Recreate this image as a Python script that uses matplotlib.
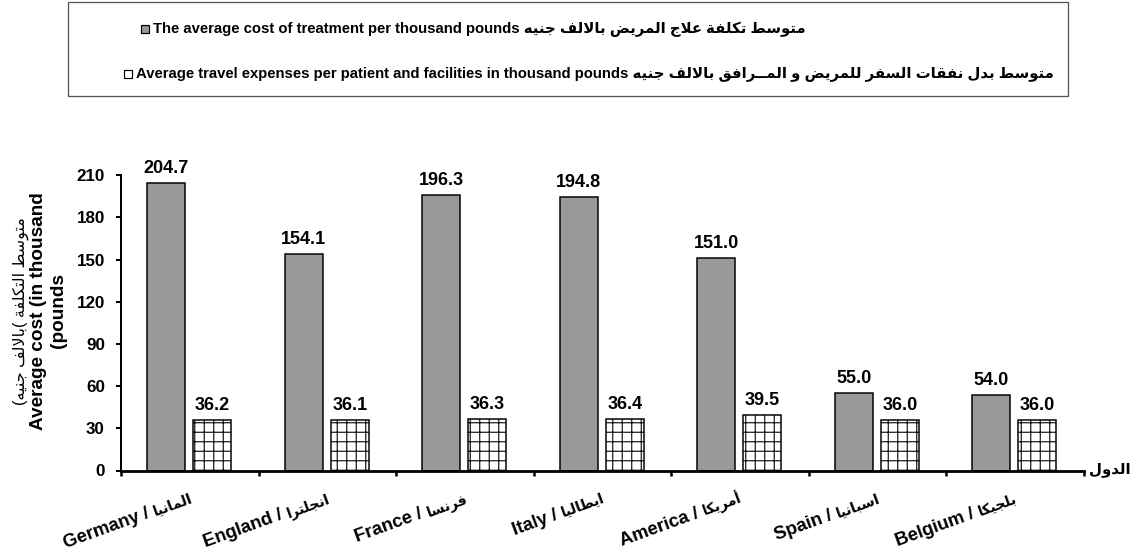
import matplotlib
matplotlib.use('Agg')
import matplotlib.pyplot as plt
from matplotlib.patches import Rectangle
import numpy as np

# ---------------- data ----------------
countries_en = ['Germany', 'England', 'France', 'Italy', 'America', 'Spain', 'Belgium']
countries_ar = ['المانيا', 'انجلترا', 'فرنسا', 'ايطاليا', 'أمريكا', 'اسبانيا', 'بلجيكا']
treatment_cost = [204.7, 154.1, 196.3, 194.8, 151.0, 55.0, 54.0]
travel_cost = [36.2, 36.1, 36.3, 36.4, 39.5, 36.0, 36.0]
y_ticks = [0, 30, 60, 90, 120, 150, 180, 210]
legend_en = ['The average cost of treatment per thousand pounds',
             'Average travel expenses per patient and facilities in thousand pounds']
legend_ar = ['متوسط تكلفة علاج المريض بالالف جنيه',
             'متوسط بدل نفقات السفر للمريض و المــرافق بالالف جنيه']
legend_colors = ['#999999', 'white']
xaxis_ar = 'الدول'
ylabel_en = ['Average cost (in thousand', '(pounds']

# ------------- simple Arabic shaping (presentation forms) -------------
FORMS = {
    'ا': ('\uFE8D', '\uFE8E'), 'أ': ('\uFE83', '\uFE84'),
    'ب': ('\uFE8F', '\uFE90', '\uFE91', '\uFE92'),
    'ت': ('\uFE95', '\uFE96', '\uFE97', '\uFE98'),
    'ة': ('\uFE93', '\uFE94'),
    'ج': ('\uFE9D', '\uFE9E', '\uFE9F', '\uFEA0'),
    'د': ('\uFEA9', '\uFEAA'), 'ر': ('\uFEAD', '\uFEAE'),
    'س': ('\uFEB1', '\uFEB2', '\uFEB3', '\uFEB4'),
    'ض': ('\uFEBD', '\uFEBE', '\uFEBF', '\uFEC0'),
    'ط': ('\uFEC1', '\uFEC2', '\uFEC3', '\uFEC4'),
    'ع': ('\uFEC9', '\uFECA', '\uFECB', '\uFECC'),
    'ف': ('\uFED1', '\uFED2', '\uFED3', '\uFED4'),
    'ق': ('\uFED5', '\uFED6', '\uFED7', '\uFED8'),
    'ك': ('\uFED9', '\uFEDA', '\uFEDB', '\uFEDC'),
    'ل': ('\uFEDD', '\uFEDE', '\uFEDF', '\uFEE0'),
    'م': ('\uFEE1', '\uFEE2', '\uFEE3', '\uFEE4'),
    'ن': ('\uFEE5', '\uFEE6', '\uFEE7', '\uFEE8'),
    'ه': ('\uFEE9', '\uFEEA', '\uFEEB', '\uFEEC'),
    'و': ('\uFEED', '\uFEEE'),
    'ي': ('\uFEF1', '\uFEF2', '\uFEF3', '\uFEF4'),
    'LA': ('\uFEFB', '\uFEFC'), 'LAH': ('\uFEF7', '\uFEF8'),
}


def ar(text):
    toks = []
    i = 0
    while i < len(text):
        c = text[i]
        if c == 'ل' and i + 1 < len(text) and text[i + 1] in 'اأ':
            toks.append('LA' if text[i + 1] == 'ا' else 'LAH')
            i += 2
            continue
        toks.append(c)
        i += 1

    def jt(t):
        if t == '\u0640':
            return 'C'
        if t in FORMS:
            return 'R' if len(FORMS[t]) == 2 else 'D'
        return 'U'

    out = []
    for k, t in enumerate(toks):
        typ = jt(t)
        if typ in ('U', 'C'):
            out.append(t)
            continue
        prev = toks[k - 1] if k > 0 else None
        nxt = toks[k + 1] if k + 1 < len(toks) else None
        jp = prev is not None and jt(prev) in ('D', 'C')
        jn = typ == 'D' and nxt is not None and jt(nxt) in ('D', 'R', 'C')
        f = FORMS[t]
        if typ == 'R':
            out.append(f[1] if jp else f[0])
        else:
            out.append(f[3] if (jp and jn) else f[1] if jp else f[2] if jn else f[0])
    return ''.join(reversed(out))


# ---------------- figure ----------------
DPI = 114
W, H = 1131, 553


def pt(px):
    return px * 72.0 / DPI


FAM = ['Liberation Sans', 'DejaVu Sans']
plt.rcParams['font.family'] = FAM
plt.rcParams['font.weight'] = 'bold'
plt.rcParams['hatch.linewidth'] = pt(1.1)

fig = plt.figure(figsize=(W / DPI, H / DPI), dpi=DPI)
fig.patch.set_facecolor('white')
renderer = fig.canvas.get_renderer()


def text_width(s, size, weight='bold', family=None):
    t = fig.text(0, 0, s, fontsize=size, fontweight=weight,
                 family=family if family else FAM)
    w = t.get_window_extent(renderer).width
    t.remove()
    return w


x0, x1 = 121, 1083.5
y0, y1 = 470.5, 175.3
ax = fig.add_axes([x0 / W, 1 - y0 / H, (x1 - x0) / W, (y0 - y1) / H])

x = np.arange(len(countries_en))
bw = 0.276
b1 = ax.bar(x - 0.17, treatment_cost, width=bw, color=legend_colors[0],
            edgecolor='black', linewidth=pt(1.5), zorder=2)
b2 = ax.bar(x + 0.165, travel_cost, width=bw, color=legend_colors[1],
            edgecolor='black', hatch='++', linewidth=pt(1.5), zorder=2)

for bars, vals in ((b1, treatment_cost), (b2, travel_cost)):
    for r, v in zip(bars, vals):
        ax.annotate(f'{v:.1f}', (r.get_x() + r.get_width() / 2, v),
                    xytext=(0, pt(10)), textcoords='offset points',
                    ha='center', va='baseline', fontsize=pt(18),
                    fontweight='bold', annotation_clip=False)

ax.set_xlim(-0.5, len(x) - 0.5)
ax.set_ylim(0, 210)
ax.set_yticks(y_ticks)
ax.set_yticklabels([str(v) for v in y_ticks])
ax.tick_params(axis='y', direction='out', length=pt(5), width=pt(2),
               labelsize=pt(17), pad=pt(11))

ax.set_xticks(np.arange(-0.5, len(x), 1.0))
ax.set_xticklabels([''] * (len(x) + 1))
ax.tick_params(axis='x', which='major', direction='out', length=pt(5), width=pt(2.5))

# category labels: English part + Arabic part on one rotated baseline
ANG = 20
rad = np.deg2rad(ANG)
EN_SIZE = pt(18.5)
AR_SIZE = pt(14)
OX, OY = 3.5, 31.5   # px offset of the label's right baseline end from category centre
GAP = 5
for xi, e, a in zip(x, countries_en, countries_ar):
    sa = ar(a)
    ax.annotate(sa, (xi, 0), xytext=(pt(OX), -pt(OY)), textcoords='offset points',
                rotation=ANG, rotation_mode='anchor', ha='right', va='baseline',
                fontsize=AR_SIZE, fontweight='bold', annotation_clip=False)
    wa = text_width(sa, AR_SIZE) + GAP
    ax.annotate(f'{e} /', (xi, 0),
                xytext=(pt(OX - wa * np.cos(rad)), -pt(OY) - pt(wa * np.sin(rad))),
                textcoords='offset points', rotation=ANG, rotation_mode='anchor',
                ha='right', va='baseline', fontsize=EN_SIZE, fontweight='bold',
                annotation_clip=False)

for s in ('top', 'right'):
    ax.spines[s].set_visible(False)
ax.spines['left'].set_linewidth(pt(2))
ax.spines['bottom'].set_linewidth(pt(2.8))

# x-axis title at right end
fig.text(1089 / W, 1 - 470 / H, ar(xaxis_ar), ha='left', va='center',
         fontsize=pt(15), fontweight='bold')

# y-axis title (three lines)
yl_ar = '(' + ar('جنيه') + ' ' + ar('بالالف') + '( ' + ar('التكلفة') + ' ' + ar('متوسط')
yc = 1 - 311 / H
fig.text(21 / W, yc, yl_ar, rotation=90, ha='center', va='center',
         fontsize=pt(16), fontweight='normal')
fig.text(39 / W, yc, ylabel_en[0], rotation=90, ha='center', va='center',
         fontsize=pt(19), fontweight='bold')
fig.text(59 / W, yc, ylabel_en[1], rotation=90, ha='center', va='center',
         fontsize=pt(19), fontweight='bold')

# legend frame and entries
fig.add_artist(Rectangle((68 / W, 1 - 96 / H), 1000 / W, 94 / H,
                         transform=fig.transFigure, fill=False,
                         edgecolor='#555555', linewidth=pt(1.3)))
labels = [f'{e} {ar(a)}' for e, a in zip(legend_en, legend_ar)]
row_x = [141, 124]
row_y = [29, 74]
# font size chosen so that the second (longest) row ends near x = 1053
ref = pt(10)
wref = text_width(labels[1], ref)
LEG_SIZE = ref * (1053 - (row_x[1] + 12)) / wref
MK = 8
for lab, col, rx, ry in zip(labels, legend_colors, row_x, row_y):
    fig.add_artist(Rectangle((rx / W, 1 - (ry + MK / 2) / H), MK / W, MK / H,
                             transform=fig.transFigure, facecolor=col,
                             edgecolor='black', linewidth=pt(1.2)))
    fig.text((rx + MK + 4) / W, 1 - ry / H, lab, ha='left', va='center',
             fontsize=LEG_SIZE, fontweight='bold')

fig.savefig('out.png', dpi=DPI, facecolor='white')
